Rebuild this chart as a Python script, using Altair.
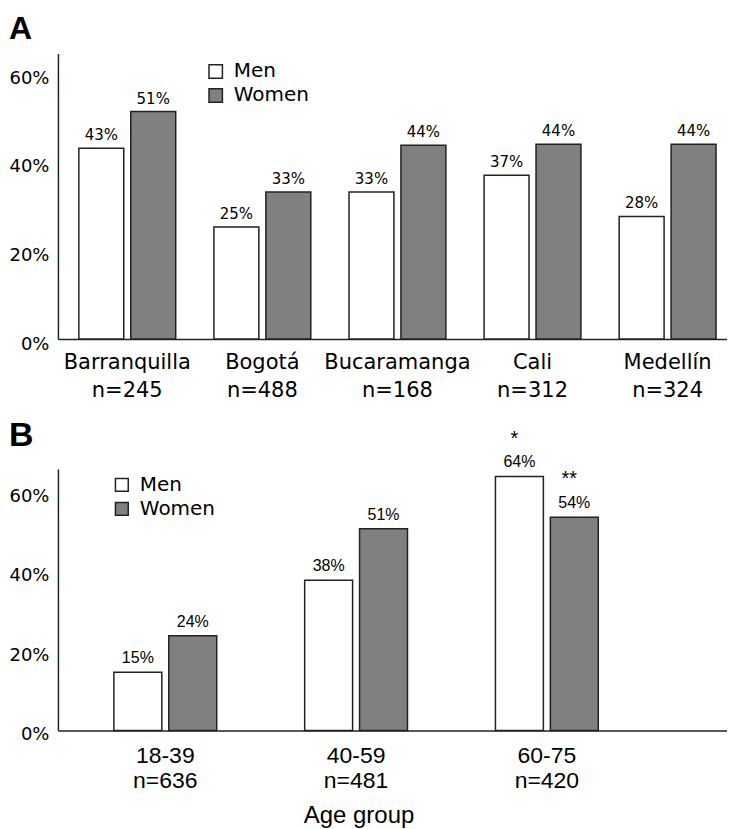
import altair as alt
import pandas as pd

# ---------------- data ----------------
sexes = ["Men", "Women"]
fills = ["#ffffff", "#808080"]

cities = ["Barranquilla", "Bogotá", "Bucaramanga", "Cali", "Medellín"]
city_n = [245, 488, 168, 312, 324]
men_city = [0.431, 0.253, 0.332, 0.370, 0.277]
women_city = [0.514, 0.332, 0.438, 0.440, 0.440]

ages = ["18-39", "40-59", "60-75"]
age_n = [636, 481, 420]
men_age = [0.147, 0.379, 0.641]
women_age = [0.239, 0.509, 0.538]
men_sig = ["", "", "*"]
women_sig = ["", "", "**"]

cat_a = [f"{c}|n={n}" for c, n in zip(cities, city_n)]
rows_a = []
for i, c in enumerate(cat_a):
    rows_a.append({"cat": c, "sex": "Men", "value": men_city[i]})
    rows_a.append({"cat": c, "sex": "Women", "value": women_city[i]})
df_a = pd.DataFrame(rows_a)

cat_b = [f"{a}|n={n}" for a, n in zip(ages, age_n)]
rows_b = []
for i, c in enumerate(cat_b):
    rows_b.append({"cat": c, "sex": "Men", "value": men_age[i], "sig": men_sig[i]})
    rows_b.append({"cat": c, "sex": "Women", "value": women_age[i], "sig": women_sig[i]})
df_b = pd.DataFrame(rows_b)

DARK = "#222222"
WIDE = "DejaVu Sans"
ARIAL = "Liberation Sans"

# ---------------- panel A ----------------
xa = alt.X("cat:N", sort=cat_a,
           scale=alt.Scale(paddingInner=0.283, paddingOuter=0.118, align=0.656),
           axis=alt.Axis(title=None, labelExpr="split(datum.label, '|')",
                         labelFont=WIDE, labelFontSize=21, labelLineHeight=28,
                         labelPadding=12, labelBaseline="top", ticks=False, tickSize=0,
                         labelAngle=0, labelOverlap=False, labelColor="black",
                         domainColor=DARK, domainWidth=1.5))
ya = alt.Y("value:Q", scale=alt.Scale(domain=[0, 0.645], nice=False, zero=True),
           axis=alt.Axis(title=None, values=[0, 0.2, 0.4, 0.6], format=".0%",
                         grid=False, ticks=False, tickSize=0, labelFont=WIDE,
                         labelFontSize=18, labelPadding=9, labelOffset=5,
                         labelColor="black", domainColor=DARK, domainWidth=1.5))
xoa = alt.XOffset("sex:N", sort=sexes, scale=alt.Scale(paddingInner=0.135, paddingOuter=0))
ca = alt.Color("sex:N", scale=alt.Scale(domain=sexes, range=fills),
               legend=alt.Legend(title=None, orient="none", legendX=148, legendY=8,
                                 symbolType="square", symbolSize=180,
                                 symbolStrokeColor=DARK, symbolStrokeWidth=1.5,
                                 labelFont=WIDE, labelFontSize=20, labelOffset=8,
                                 rowPadding=4, padding=0, labelColor="black"))

base_a = alt.Chart(df_a)
bars_a = base_a.mark_bar(stroke=DARK, strokeWidth=1.5).encode(x=xa, xOffset=xoa, y=ya, color=ca)
labels_a = base_a.mark_text(dy=-13, font=WIDE, fontSize=15, color="black", baseline="middle").encode(
    x=xa, xOffset=xoa, y=ya, text=alt.Text("value:Q", format=".0%"))
panel_a = alt.layer(bars_a, labels_a).properties(
    width=670, height=286,
    title=alt.TitleParams("A", anchor="start", frame="bounds", font=ARIAL, fontSize=32,
                          fontWeight="bold", offset=8, color="black", baseline="top"))

# ---------------- panel B ----------------
xb = alt.X("cat:N", sort=cat_b,
           scale=alt.Scale(paddingInner=0.461, paddingOuter=0.484, align=0.303),
           axis=alt.Axis(title="Age group", labelExpr="split(datum.label, '|')",
                         labelFont=ARIAL, labelFontSize=23, labelLineHeight=25,
                         labelPadding=14, labelBaseline="top", ticks=False, tickSize=0,
                         labelAngle=0, labelOverlap=False, labelColor="black",
                         domainColor=DARK, domainWidth=1.5,
                         titleFont=ARIAL, titleFontSize=24, titleFontWeight="normal",
                         titleColor="black", titleX=301, titleY=92, titleAlign="center",
                         titleBaseline="alphabetic"))
yb = alt.Y("value:Q", scale=alt.Scale(domain=[0, 0.66], nice=False, zero=True),
           axis=alt.Axis(title=None, values=[0, 0.2, 0.4, 0.6], format=".0%",
                         grid=False, ticks=False, tickSize=0, labelFont=WIDE,
                         labelFontSize=18, labelPadding=9, labelOffset=4,
                         labelColor="black", domainColor=DARK, domainWidth=1.5))
xob = alt.XOffset("sex:N", sort=sexes, scale=alt.Scale(paddingInner=0.127, paddingOuter=0))
cb = alt.Color("sex:N", scale=alt.Scale(domain=sexes, range=fills),
               legend=alt.Legend(title=None, orient="none", legendX=54, legendY=6,
                                 symbolType="square", symbolSize=165,
                                 symbolStrokeColor=DARK, symbolStrokeWidth=1.5,
                                 labelFont=WIDE, labelFontSize=20, labelOffset=8,
                                 rowPadding=4, padding=0, labelColor="black"))

base_b = alt.Chart(df_b)
bars_b = base_b.mark_bar(stroke=DARK, strokeWidth=1.5).encode(x=xb, xOffset=xob, y=yb, color=cb)
labels_b = base_b.mark_text(dy=-14, font=ARIAL, fontSize=16, color="black", baseline="middle").encode(
    x=xb, xOffset=xob, y=yb, text=alt.Text("value:Q", format=".0%"))
stars_b = base_b.mark_text(dy=-38, dx=-5, font=ARIAL, fontSize=20, color="black", baseline="middle").encode(
    x=xb, xOffset=xob, y=yb, text="sig:N")
panel_b = alt.layer(bars_b, labels_b, stars_b).properties(
    width=670, height=262,
    title=alt.TitleParams("B", anchor="start", frame="bounds", font=ARIAL, fontSize=34,
                          fontWeight="bold", offset=-24, color="black", baseline="top"))

chart = alt.ConcatChart(concat=[panel_a, panel_b], columns=1, spacing=18, align="none").resolve_scale(
    x="independent", y="independent", color="independent", xOffset="independent"
).resolve_legend(color="independent").properties(
    padding={"left": 0, "top": 4, "right": 0, "bottom": 0},
    background="white",
).configure_view(stroke=None)

chart.save("out.html", embed_options={"renderer": "svg", "actions": False})
